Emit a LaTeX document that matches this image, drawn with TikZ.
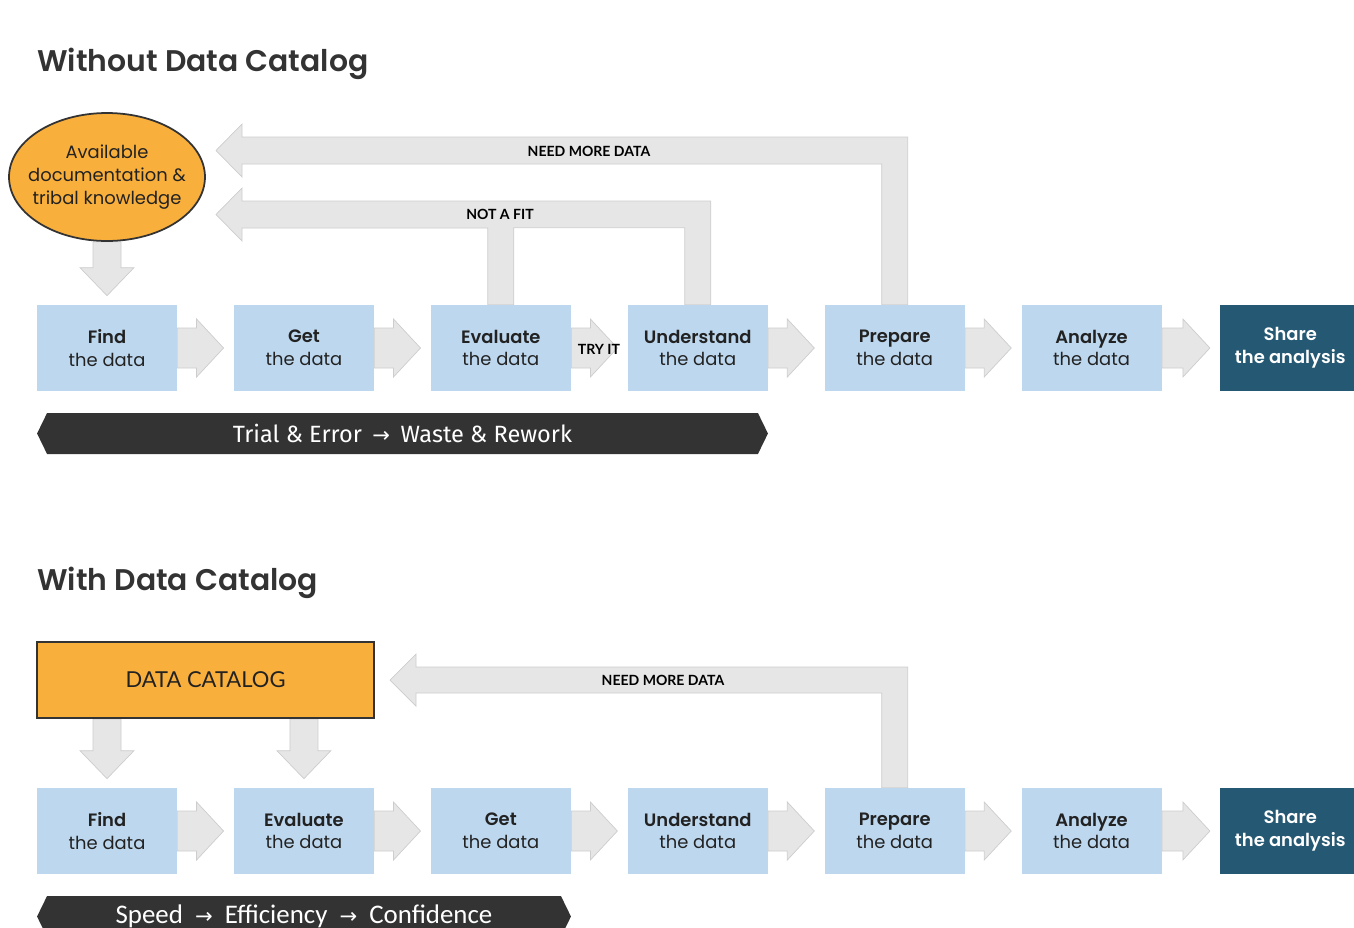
\documentclass[tikz,border=0pt]{standalone}
\usepackage{fontspec}
\setmainfont{Poppins}[BoldFont={Poppins SemiBold}]
\newfontfamily\labfont{Lato}
\newfontfamily\barfont{Fira Sans}
\newfontfamily\calfont{Carlito}
\newfontfamily\arrfont{DejaVu Sans}
\usetikzlibrary{shapes,arrows,positioning,calc,backgrounds,shapes.symbols}
\definecolor{boxblue}{HTML}{BDD7EE}
\definecolor{sharecol}{HTML}{245873}
\definecolor{orangecol}{HTML}{F9AF3B}
\definecolor{arrgray}{HTML}{E6E6E6}
\definecolor{arredge}{HTML}{CDCDCD}
\definecolor{barcol}{HTML}{333333}
\definecolor{txtcol}{HTML}{222222}
% block arrow between two boxes of a row
\newcommand{\blockright}[2]{\filldraw[blockarr] ($(#1.east)+(0,-20)$) -- ($(#2.west)+(-37,-20)$) -- ++(0,-9) -- ($(#2.west)+(-10,0)$) -- ($(#2.west)+(-37,29)$) -- ++(0,-9) -- ($(#1.east)+(0,20)$) -- cycle;}
% block arrow from a point down onto a box
\newcommand{\blockdown}[2]{\filldraw[blockarr] ($(#1)+(-14,0)$) -- ($(#2.north)+(-14,-37)$) -- ++(-13,0) -- ($(#2.north)+(0,-9)$) -- ($(#2.north)+(27,-37)$) -- ++(-13,0) -- ($(#1)+(14,0)$) -- cycle;}
\newcommand{\thin}{\hspace{0.45em}{\arrfont\fontsize{12}{12}\selectfont →}\hspace{0.45em}}
\tikzset{
  stepbox/.style={rectangle, fill=boxblue, minimum width=2.8cm, minimum height=1.72cm, inner sep=0pt, align=center, text=txtcol, font=\fontsize{10.2}{13}\selectfont},
  sharebox/.style={stepbox, fill=sharecol, text=white},
  blockarr/.style={fill=arrgray, draw=arredge, line width=0.4pt},
  looplabel/.style={font=\labfont\bfseries\fontsize{8}{9}\selectfont, text=black, inner sep=0pt},
  heading/.style={font=\fontsize{17}{20}\selectfont\bfseries, text=barcol, anchor=base west, inner sep=0pt},
  slogan/.style={signal, signal to=west and east, signal pointer angle=128, fill=barcol, text=white, minimum height=0.82cm, inner sep=0pt},
}

\begin{document}
\begin{tikzpicture}[x=0.02cm, y=-0.02cm, node distance=1.125cm]
  \useasboundingbox (0,0) rectangle (1354,927);
  \clip (0,0) rectangle (1354,927);

  % without catalog
  \node[heading] (t1) at (37,71) {Without Data Catalog};
  \node[ellipse, draw=barcol, line width=1pt, fill=orangecol, minimum width=3.92cm, minimum height=2.56cm, inner xsep=-8pt, inner ysep=0pt, align=center, text=txtcol, font=\fontsize{10.2}{13}\selectfont] (doc) at (107,177) {Available\\documentation \&\\tribal knowledge};
  \node[stepbox] (find1) at (107,348) {\bfseries Find\\the data};
  \node[stepbox, right=of find1] (get1) {\bfseries Get\\the data};
  \node[stepbox, right=of get1] (eval1) {\bfseries Evaluate\\the data};
  \node[stepbox, right=of eval1] (und1) {\bfseries Understand\\the data};
  \node[stepbox, right=of und1] (prep1) {\bfseries Prepare\\the data};
  \node[stepbox, right=of prep1] (ana1) {\bfseries Analyze\\the data};
  \node[sharebox, right=1.16cm of ana1, font=\fontsize{10.2}{13}\selectfont\bfseries] (share1) {Share\\the analysis};
  \node[slogan, minimum width=14.62cm, font=\barfont\fontsize{13.4}{15}\selectfont] (bar1) at (402.5,433.5) {Trial \& Error\thin Waste \& Rework};

  % with catalog
  \node[heading] (t2) at (37,590) {With Data Catalog};
  \node[rectangle, draw=barcol, line width=1.2pt, fill=orangecol, minimum width=6.74cm, minimum height=1.52cm, text=txtcol, font=\labfont\fontsize{12.5}{14}\selectfont] (cat) at (205.5,680) {DATA CATALOG};
  \node[stepbox] (find2) at (107,831) {\bfseries Find\\the data};
  \node[stepbox, right=of find2] (eval2) {\bfseries Evaluate\\the data};
  \node[stepbox, right=of eval2] (get2) {\bfseries Get\\the data};
  \node[stepbox, right=of get2] (und2) {\bfseries Understand\\the data};
  \node[stepbox, right=of und2] (prep2) {\bfseries Prepare\\the data};
  \node[stepbox, right=of prep2] (ana2) {\bfseries Analyze\\the data};
  \node[sharebox, right=1.16cm of ana2, font=\fontsize{10.2}{13}\selectfont\bfseries] (share2) {Share\\the analysis};
  \node[slogan, minimum width=10.68cm, font=\calfont\fontsize{15.3}{17}\selectfont] (bar2) at (304,916.5) {Speed\thin Efficiency\thin Confidence};

  \coordinate (tip1) at (216,150.5);
  \coordinate (tip2) at (216,214.5);
  \coordinate (tip3) at (390,680);
  \coordinate (c1) at (cat.south -| find2);
  \coordinate (c2) at (cat.south -| eval2);

  \begin{scope}[on background layer]
    \foreach \a/\b in {find1/get1, get1/eval1, eval1/und1, und1/prep1, prep1/ana1, ana1/share1,
                       find2/eval2, eval2/get2, get2/und2, und2/prep2, prep2/ana2, ana2/share2}
      \blockright{\a}{\b};
    \blockdown{doc.south}{find1}
    \blockdown{c1}{find2}
    \blockdown{c2}{eval2}
    \filldraw[blockarr] ($(prep1.north)+(13,0)$) |- ($(tip1)+(26,-13.5)$) -- ++(0,-13) -- (tip1) -- ++(26,26.5) -- ++(0,-13) -| ($(prep1.north)+(-13,0)$) -- cycle;
    \filldraw[blockarr] ($(und1.north)+(13,0)$) |- ($(tip2)+(26,-13.5)$) -- ++(0,-13) -- (tip2) -- ++(26,26.5) -- ++(0,-13) -| ($(eval1.north)+(-13,0)$) -- ($(eval1.north)+(13,0)$) |- ($(und1.north)+(-13,-77)$) -- ($(und1.north)+(-13,0)$) -- cycle;
    \filldraw[blockarr] ($(prep2.north)+(13,0)$) |- ($(tip3)+(26,-13)$) -- ++(0,-13) -- (tip3) -- ++(26,26) -- ++(0,-13) -| ($(prep2.north)+(-13,0)$) -- cycle;
  \end{scope}

  \node[looplabel] (lmore1) at (589,151) {NEED MORE DATA};
  \node[looplabel] (lfit) at (500,214) {NOT A FIT};
  \node[looplabel] (ltry) at (599,349) {TRY IT};
  \node[looplabel] (lmore2) at (663,680) {NEED MORE DATA};
\end{tikzpicture}
\end{document}
